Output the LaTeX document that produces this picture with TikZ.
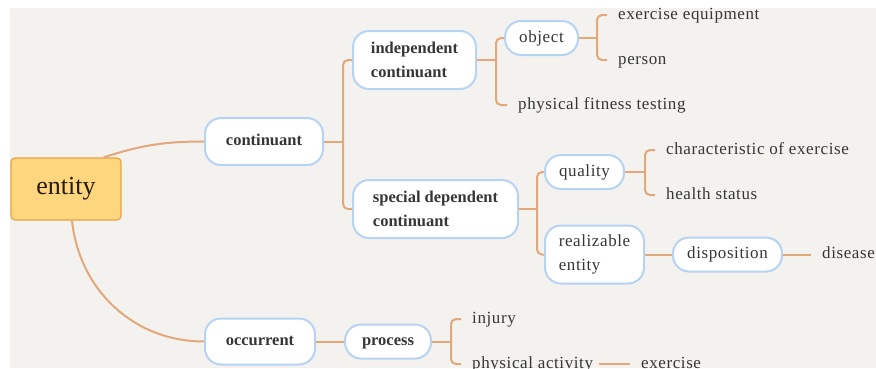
\documentclass[tikz,border=0pt]{standalone}
\usepackage{fontspec}
\setmainfont{Liberation Serif}
\newfontfamily\spacedfont[LetterSpace=3.5]{Liberation Serif}
\usetikzlibrary{positioning}

\definecolor{bgpaper}{HTML}{F4F2EF}
\definecolor{linkorange}{HTML}{E2A77A}
\definecolor{pillblue}{HTML}{B7D3F4}
\definecolor{rootfill}{HTML}{FDD67E}
\definecolor{rootdraw}{HTML}{EBA23F}
\definecolor{inkgray}{HTML}{363636}

\tikzset{
  link/.style={draw=linkorange, line width=2pt},
  bracket/.style={link, rounded corners=5pt},
  topic/.style={draw=pillblue, line width=2pt, fill=white, rounded corners=16pt,
    text=inkgray, align=left, inner sep=0pt, font=\spacedfont\fontsize{17}{24}\selectfont},
  boldtopic/.style={topic, font=\rmfamily\bfseries\fontsize{16.5}{24}\selectfont},
  oneline/.style={text height=11.5pt, text depth=3.5pt},
  leaf/.style={anchor=west, inner xsep=11pt, inner ysep=0pt, text=inkgray,
    text height=11.5pt, text depth=3.5pt, font=\spacedfont\fontsize{17}{24}\selectfont},
}

\begin{document}
\begin{tikzpicture}[x=1pt,y=-1pt]
  % --- Page and paper ---
  \useasboundingbox (0,0) rectangle (876,368);
  \clip (0,0) rectangle (876,368);
  \fill[white] (0,0) rectangle (876,368);
  \fill[bgpaper] (10,8) rectangle (876,368);

  % --- Root node ---
  \node (root) [fill=rootfill, draw=rootdraw, line width=1.2pt, rounded corners=4pt,
    minimum width=110pt, minimum height=62pt, text=black!80!brown,
    font=\fontsize{26}{30}\selectfont] at (66,189) {entity};

  % --- Main branches ---
  \node (cont) [boldtopic, oneline, minimum width=118pt, minimum height=47pt] at (264,141.5) {continuant};
  \node (occ) [boldtopic, oneline, minimum width=110pt, minimum height=46pt] at (260,341.5) {occurrent};

  % --- Continuant subtree ---
  \node (indep) [boldtopic, minimum width=123pt, minimum height=58pt] at (414.5,60)
    {independent\\continuant};
  \node (special) [boldtopic, minimum width=165pt, minimum height=58pt] at (435.5,209)
    {special dependent\\continuant};
  \node (object) [topic, oneline, minimum width=73pt, minimum height=34pt] at (541.5,38) {object};
  \node (quality) [topic, oneline, minimum width=79pt, minimum height=34pt] at (584.5,172) {quality};
  \node (realiz) [topic, minimum width=99pt, minimum height=58pt] at (594.5,254.5)
    {realizable\\entity};
  \node (disp) [topic, oneline, minimum width=109pt, minimum height=34pt] at (727.5,254.5) {disposition};

  % --- Occurrent subtree ---
  \node (process) [boldtopic, oneline, minimum width=86pt, minimum height=34pt] at (388,341.5) {process};

  % --- Leaves ---
  \node (exeq) [leaf] at (607,15) {exercise equipment};
  \node (person) [leaf] at (607,60) {person};
  \node (pft) [leaf] at (507,105) {physical fitness testing};
  \node (charex) [leaf] at (655,150) {characteristic of exercise};
  \node (health) [leaf] at (655,195) {health status};
  \node (disease) [leaf] at (811,254.5) {disease};
  \node (injury) [leaf] at (461,319) {injury};
  \node (physact) [leaf] at (461,364) {physical activity};
  \node (exercise) [leaf] at (630,364) {exercise};

  % --- Bracket joints ---
  \coordinate (jcont) at (343,141.5);
  \coordinate (jindep) at (496,60);
  \coordinate (jobject) at (597,38);
  \coordinate (jspecial) at (537,209);
  \coordinate (jquality) at (645,172);
  \coordinate (jprocess) at (451,341.5);

  % --- Root connectors ---
  \draw[link] ([xshift=-18pt]root.north east) to[out=18,in=180] (cont.west);
  \draw[link] ([xshift=6pt]root.south) to[out=-84,in=180] (occ.west);

  % --- Brackets ---
  \draw[link] (cont.east) -- (jcont);
  \draw[bracket] (indep.west) -| (jcont) |- (special.west);
  \draw[link] (indep.east) -- (jindep);
  \draw[bracket] (object.west) -| (jindep) |- (pft.west);
  \draw[link] (object.east) -- (jobject);
  \draw[bracket] (exeq.west) -| (jobject) |- (person.west);
  \draw[link] (special.east) -- (jspecial);
  \draw[bracket] (quality.west) -| (jspecial) |- (realiz.west);
  \draw[link] (quality.east) -- (jquality);
  \draw[bracket] (charex.west) -| (jquality) |- (health.west);
  \draw[link] (occ.east) -- (process.west);
  \draw[link] (process.east) -- (jprocess);
  \draw[bracket] (injury.west) -| (jprocess) |- (physact.west);

  % --- Straight chains ---
  \draw[link] (realiz.east) -- (disp.west);
  \draw[link] (disp.east) -- (disease.west);
  \draw[link] ([xshift=-5pt]physact.east) -- (exercise.west);
\end{tikzpicture}
\end{document}
